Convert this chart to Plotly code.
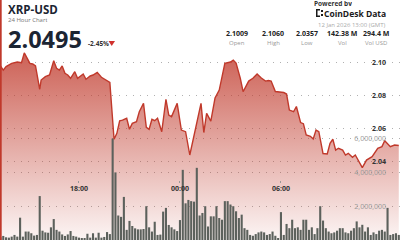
import plotly.graph_objects as go
import pandas as pd

# ---- price series ----
price_time = [
    "2026-01-11 13:20", "2026-01-11 13:30", "2026-01-11 13:40", "2026-01-11 14:00", "2026-01-11 14:20",
    "2026-01-11 14:35", "2026-01-11 14:45", "2026-01-11 14:55", "2026-01-11 15:05", "2026-01-11 15:15",
    "2026-01-11 15:25", "2026-01-11 15:40", "2026-01-11 15:45", "2026-01-11 16:00", "2026-01-11 16:15",
    "2026-01-11 16:30", "2026-01-11 16:40", "2026-01-11 16:50", "2026-01-11 17:00", "2026-01-11 17:10",
    "2026-01-11 17:20", "2026-01-11 17:30", "2026-01-11 17:45", "2026-01-11 17:55", "2026-01-11 18:15",
    "2026-01-11 18:25", "2026-01-11 18:40", "2026-01-11 18:50", "2026-01-11 19:05", "2026-01-11 19:20",
    "2026-01-11 19:35", "2026-01-11 19:50", "2026-01-11 20:05", "2026-01-11 20:15", "2026-01-11 20:25",
    "2026-01-11 20:35", "2026-01-11 20:50", "2026-01-11 21:00", "2026-01-11 21:10", "2026-01-11 21:25",
    "2026-01-11 21:35", "2026-01-11 21:50", "2026-01-11 22:00", "2026-01-11 22:10", "2026-01-11 22:20",
    "2026-01-11 22:30", "2026-01-11 22:40", "2026-01-11 22:55", "2026-01-11 23:10", "2026-01-11 23:20",
    "2026-01-11 23:30", "2026-01-11 23:50", "2026-01-12 00:05", "2026-01-12 00:20", "2026-01-12 00:35",
    "2026-01-12 00:55", "2026-01-12 01:15", "2026-01-12 01:25", "2026-01-12 01:35", "2026-01-12 01:50",
    "2026-01-12 02:05", "2026-01-12 02:20", "2026-01-12 02:40", "2026-01-12 03:00", "2026-01-12 03:10",
    "2026-01-12 03:20", "2026-01-12 03:35", "2026-01-12 03:45", "2026-01-12 04:05", "2026-01-12 04:20",
    "2026-01-12 04:35", "2026-01-12 04:50", "2026-01-12 05:05", "2026-01-12 05:15", "2026-01-12 05:25",
    "2026-01-12 05:40", "2026-01-12 06:10", "2026-01-12 06:20", "2026-01-12 06:30", "2026-01-12 06:45",
    "2026-01-12 06:55", "2026-01-12 07:10", "2026-01-12 07:20", "2026-01-12 07:30", "2026-01-12 07:45",
    "2026-01-12 07:55", "2026-01-12 08:05", "2026-01-12 08:15", "2026-01-12 08:30", "2026-01-12 08:45",
    "2026-01-12 08:55", "2026-01-12 09:05", "2026-01-12 09:15", "2026-01-12 09:25", "2026-01-12 09:40",
    "2026-01-12 09:50", "2026-01-12 10:00", "2026-01-12 10:15", "2026-01-12 10:25", "2026-01-12 10:50",
    "2026-01-12 11:05", "2026-01-12 11:25", "2026-01-12 11:45", "2026-01-12 12:00", "2026-01-12 12:10",
    "2026-01-12 12:30", "2026-01-12 12:45", "2026-01-12 13:00",
]
price = [
    2.0980, 2.0955, 2.0976, 2.0996, 2.1004,
    2.1000, 2.1060, 2.1027, 2.0996, 2.0992,
    2.0980, 2.0838, 2.0894, 2.0915, 2.0925,
    2.1012, 2.0966, 2.0955, 2.0980, 2.0935,
    2.0925, 2.0905, 2.0945, 2.0905, 2.0931,
    2.0899, 2.0919, 2.0925, 2.0941, 2.0911,
    2.0894, 2.0880, 2.0533, 2.0569, 2.0646,
    2.0650, 2.0661, 2.0594, 2.0630, 2.0640,
    2.0701, 2.0752, 2.0606, 2.0594, 2.0655,
    2.0646, 2.0661, 2.0579, 2.0777, 2.0681,
    2.0671, 2.0752, 2.0589, 2.0579, 2.0437,
    2.0596, 2.0752, 2.0574, 2.0691, 2.0644,
    2.0785, 2.0833, 2.0996, 2.1004, 2.1016,
    2.0998, 2.0905, 2.0823, 2.0888, 2.0905,
    2.0931, 2.0907, 2.0888, 2.0891, 2.0888,
    2.0824, 2.0818, 2.0809, 2.0711, 2.0701,
    2.0733, 2.0635, 2.0628, 2.0559, 2.0551,
    2.0535, 2.0589, 2.0579, 2.0446, 2.0443,
    2.0508, 2.0533, 2.0467, 2.0478, 2.0467,
    2.0437, 2.0447, 2.0423, 2.0437, 2.0360,
    2.0406, 2.0427, 2.0478, 2.0488, 2.0524,
    2.0488, 2.0498, 2.0495,
]

# ---- 10-minute volume (millions), starting 13:20 ----
volume_start = "2026-01-11 13:20"
volume_m = [
    0.16, 0.24, 0.16, 0.14, 0.20, 0.30, 0.20, 1.32, 0.20, 0.50,
    0.50, 0.40, 0.26, 0.30, 2.60, 0.55, 0.45, 0.43, 0.75, 1.24,
    0.60, 0.50, 0.33, 0.24, 0.33, 0.53, 0.24, 0.20, 0.14, 0.10,
    0.12, 0.37, 0.14, 0.40, 0.14, 0.43, 0.14, 0.18, 0.47, 0.35,
    6.00, 4.00, 1.45, 1.37, 2.55, 0.60, 1.13, 0.83, 0.69, 0.63,
    0.63, 0.65, 2.00, 0.75, 0.50, 1.08, 0.30, 0.32, 1.68, 1.90,
    0.89, 0.75, 0.63, 0.53, 1.18, 4.15, 2.17, 2.37, 2.30, 2.27,
    4.27, 1.45, 1.60, 2.00, 0.80, 1.40, 1.40, 2.00, 1.30, 1.20,
    2.30, 2.30, 2.10, 2.00, 1.70, 1.30, 1.50, 0.70, 0.60, 0.30,
    0.25, 0.35, 0.45, 0.50, 0.45, 0.30, 0.35, 0.50, 0.25, 0.12,
    1.65, 0.30, 0.95, 0.70, 1.20, 0.70, 0.75, 0.60, 1.20, 1.20,
    0.60, 0.75, 0.35, 0.70, 2.00, 1.15, 0.70, 0.50, 0.40, 0.45,
    0.55, 0.70, 0.70, 0.45, 0.40, 0.55, 0.70, 1.10, 0.75, 0.90,
    0.50, 0.75, 0.30, 0.45, 0.35, 0.55, 0.60, 0.50, 1.90, 0.30,
    0.35, 0.40, 0.30,
]
volume_time = pd.date_range(volume_start, periods=len(volume_m), freq="10min")
volume = [v * 1e6 for v in volume_m]

price_ticks = [2.04, 2.06, 2.08, 2.10]
volume_ticks = [2e6, 4e6, 6e6]
time_ticks = ["2026-01-11 18:00", "2026-01-12 00:00", "2026-01-12 06:00", "2026-01-12 12:00"]

stat_values = ["2.1009", "2.1060", "2.0357", "142.38 M", "294.4 M"]
stat_labels = ["Open", "High", "Low", "Vol", "Vol USD"]

RED = "#c0392b"
FONT = "Open Sans"
W, H = 400, 240

fig = go.Figure()
fig.add_trace(go.Scatter(
    x=price_time, y=price, mode="lines", yaxis="y",
    line=dict(color=RED, width=1.4),
    fill="tozeroy",
    fillgradient=dict(type="vertical",
                      colorscale=[[0, "rgba(192,57,43,0.05)"], [1, "rgba(192,57,43,0.8)"]],
                      start=1.992, stop=2.106),
    hoverinfo="skip",
))
fig.add_trace(go.Bar(
    x=volume_time, y=volume, yaxis="y2",
    marker=dict(color="#5c615c", line=dict(width=0)),
    hoverinfo="skip",
))

grid = dict(showgrid=True, gridcolor="#b0b0b0", griddash="1px,6px", gridwidth=1,
            zeroline=False, showline=False)

fig.update_layout(
    width=W, height=H, margin=dict(l=0, r=0, t=0, b=0),
    paper_bgcolor="white", plot_bgcolor="white", showlegend=False, bargap=0.25,
    font=dict(family=FONT),
    xaxis=dict(type="date", range=["2026-01-11 13:18:24", "2026-01-12 13:04:24"],
               tickvals=time_ticks, tickformat="%H:%M",
               anchor="free", position=0.252, ticks="outside", ticklen=2,
               tickcolor="#999", showgrid=False, showline=False, zeroline=False,
               tickfont=dict(family=FONT, size=7, color="#333", weight="bold")),
    yaxis=dict(range=[1.99185, 2.13825], side="right", tickvals=price_ticks,
               ticktext=[f"{v:.2f}" for v in price_ticks],
               ticklabelposition="inside", ticklabelstandoff=11,
               tickfont=dict(family=FONT, size=7, color="#333", weight="bold"), **grid),
    yaxis2=dict(range=[0, 14.2e6], overlaying="y", side="right", tickvals=volume_ticks,
                ticktext=[f"{int(v):,}" for v in volume_ticks],
                ticklabelposition="inside", ticklabelstandoff=11,
                tickfont=dict(family=FONT, size=7, color="#9a9a9a"), **grid),
)

def px(x): return x / W
def py(y): return 1 - y / H

ann = []
def text(x, y, s, size, color, bold=False, xanchor="left", height=None):
    a = dict(x=px(x), y=py(y), xref="paper", yref="paper", text=s, showarrow=False,
             xanchor=xanchor, yanchor="middle",
             font=dict(family=FONT, size=size, color=color,
                       weight="bold" if bold else "normal"))
    if height:
        a["height"] = height
    ann.append(a)

text(6, 9.5, "XRP-USD", 11.5, "#1b2533", True)
text(6, 19.5, "24 Hour Chart", 6, "#777", height=7)
text(6, 38.5, "2.0495", 23.5, "#1b2533", True, height=22)
text(86, 43.5, "-2.45%", 6.5, "#333", True)
text(333, 3.5, "Powered by", 6.5, "#333", True, "center", height=6)
text(388, 13, "CoinDesk Data", 8.5, "#1b1b1b", True, "right")
text(388, 25, "12 Jan 2026 13:00 (GMT)", 6, "#aaa", False, "right")
for cx, v, l in zip([237, 273, 307, 342, 376], stat_values, stat_labels):
    text(cx, 34, v, 7, "#222", True, "center")
    text(cx, 43, l, 6, "#999", False, "center")

shapes = [
    dict(type="line", xref="paper", yref="paper", x0=px(0.8), x1=px(0.8), y0=0, y1=1,
         line=dict(color=RED, width=1.8)),
    dict(type="path", xref="paper", yref="paper",
         path=f"M {px(108.5)} {py(41)} L {px(115)} {py(41)} L {px(111.75)} {py(46)} Z",
         fillcolor="#d0312d", line=dict(width=0)),
    dict(type="path", xref="paper", yref="paper",
         path=(f"M {px(316)} {py(9)} L {px(320)} {py(9)} L {px(320)} {py(10.5)} L {px(317.5)} {py(10.5)} "
               f"L {px(317.5)} {py(15.5)} L {px(320)} {py(15.5)} L {px(320)} {py(17)} L {px(316)} {py(17)} Z"),
         fillcolor="#1b1b1b", line=dict(width=0)),
    dict(type="rect", xref="paper", yref="paper", x0=px(321), x1=px(323), y0=py(12), y1=py(10),
         fillcolor="#1b1b1b", line=dict(width=0)),
    dict(type="rect", xref="paper", yref="paper", x0=px(321), x1=px(323), y0=py(16), y1=py(14),
         fillcolor="#1b1b1b", line=dict(width=0)),
]
fig.update_layout(annotations=ann, shapes=shapes)

fig.write_html("out.html")
